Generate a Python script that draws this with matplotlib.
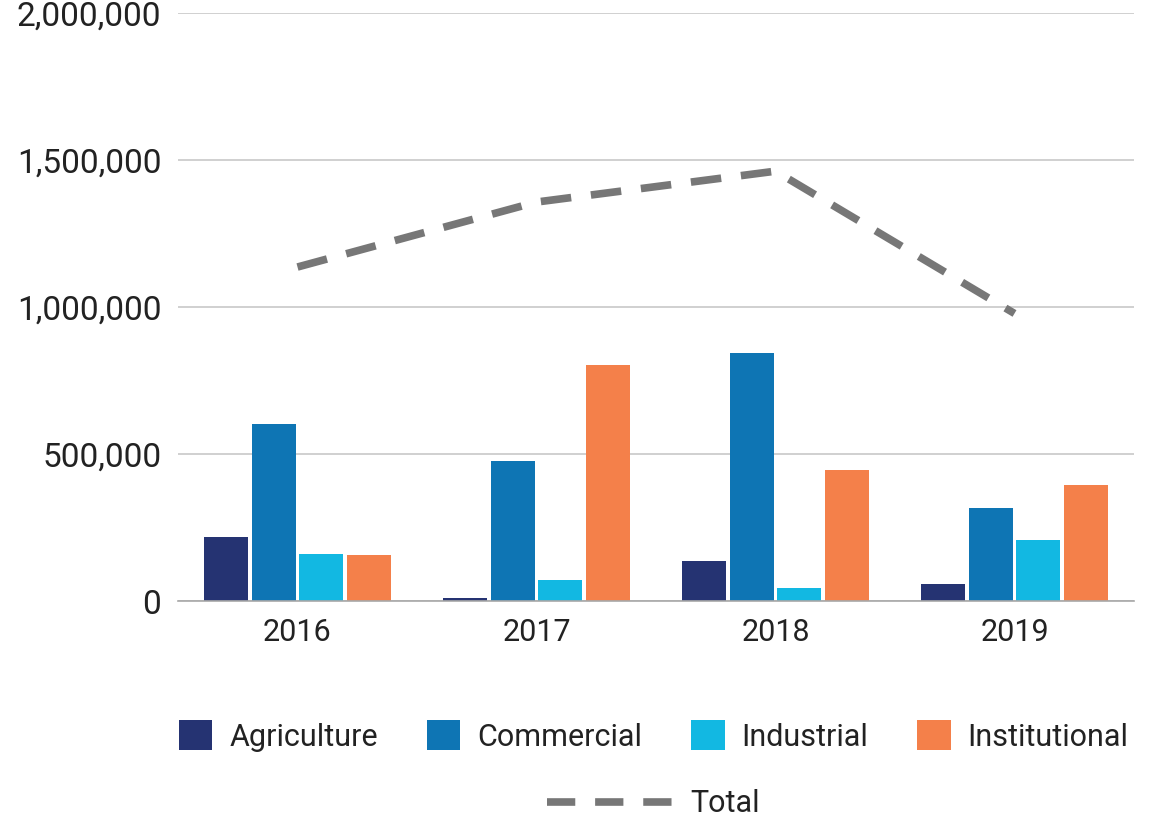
import matplotlib.pyplot as plt
import numpy as np
from matplotlib.patches import Patch
from matplotlib.lines import Line2D

plt.rcParams['font.family'] = ['Roboto', 'DejaVu Sans']

years = ['2016', '2017', '2018', '2019']
agriculture = [218000, 10000, 136000, 58000]
commercial = [602000, 476000, 844000, 316000]
industrial = [160000, 71000, 44000, 207000]
institutional = [156000, 803000, 446000, 395000]
total = [1136000, 1357000, 1462000, 978000]

series = [('Agriculture', agriculture, '#253372'),
          ('Commercial', commercial, '#0e75b4'),
          ('Industrial', industrial, '#12b8e2'),
          ('Institutional', institutional, '#f4804a')]

fig = plt.figure(figsize=(11.51, 8.19), dpi=100)
ax = fig.add_axes([178 / 1151, 1 - 601 / 819, (1134 - 178) / 1151, (601 - 13) / 819])

x = np.arange(len(years))
step = 0.2
width = 0.184
for i, (name, vals, col) in enumerate(series):
    ax.bar(x + (i - 1.5) * step, vals, width, color=col, label=name, zorder=3)

ax.plot(x, total, color='#777777', lw=5.5, dashes=(4.0, 2.6), zorder=4)

ax.set_xlim(-0.5, 3.5)
ax.set_ylim(0, 2000000)
ax.set_yticks([0, 500000, 1000000, 1500000, 2000000])
ax.set_yticklabels(['0', '500,000', '1,000,000', '1,500,000', '2,000,000'])
ax.set_xticks(x)
ax.set_xticklabels(years)
ax.tick_params(axis='both', length=0, colors='#222222')
ax.tick_params(axis='y', pad=12, labelsize=24)
ax.tick_params(axis='x', pad=12, labelsize=22)
ax.yaxis.grid(True, color='#c8c8c8', lw=1.2, zorder=0)
for s in ['top', 'right', 'left']:
    ax.spines[s].set_visible(False)
ax.spines['bottom'].set_color('#a8a8a8')
ax.spines['bottom'].set_linewidth(1.2)
ax.spines['bottom'].set_zorder(5)

handles = [Patch(facecolor=c, label=n) for n, _, c in series]
fig.legend(handles=handles, loc='center', bbox_to_anchor=(0.568, 1 - 736 / 819), ncol=4,
           frameon=False, fontsize=22, handlelength=1.1, handleheight=1.1,
           handletextpad=0.55, columnspacing=1.6, labelcolor='#222222',
           borderpad=0, borderaxespad=0)
fig.legend(handles=[Line2D([0], [0], color='#777777', lw=5.5, dashes=(3.7, 2.6))],
           labels=['Total'], loc='center', bbox_to_anchor=(0.568, 1 - 804 / 819),
           frameon=False, fontsize=22, handlelength=4.2, handletextpad=0.5,
           labelcolor='#222222', borderpad=0, borderaxespad=0)

fig.savefig('out.png', dpi=100)
